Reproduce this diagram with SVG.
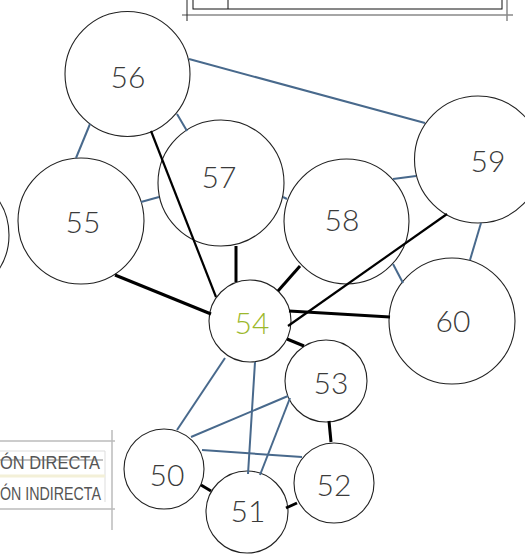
<svg xmlns="http://www.w3.org/2000/svg" width="525" height="556" viewBox="0 0 525 556">
<style>
.node{fill:#fff;stroke:#222;stroke-width:1.1}
.lbl{font-family:Lato,"Open Sans","Liberation Sans",sans-serif;font-weight:300;font-size:30px;fill:#3a3a3a;text-anchor:middle;dominant-baseline:central}
.d{stroke:#000;stroke-width:3;stroke-linecap:butt;fill:none}
.d2{stroke:#000;stroke-width:2.2;fill:none}
.i{stroke:#48698c;stroke-width:2;fill:none}
.frame{stroke:#888;stroke-width:1.5;fill:none}
.leg{font-family:"Liberation Sans","DejaVu Sans",sans-serif;font-size:18px;fill:#555}
</style>
<rect width="525" height="556" fill="#fff"/>
<g id="table">
<line class="frame" x1="182" y1="15" x2="513" y2="15"/>
<line x1="187" y1="0" x2="187" y2="21" stroke="#222" stroke-width="1"/>
<line x1="507" y1="0" x2="507" y2="21" stroke="#888" stroke-width="1.5"/>
<rect x="193" y="-2" width="309" height="11" fill="none" stroke="#111" stroke-width="1"/>
<line x1="228" y1="0" x2="228" y2="9" stroke="#111" stroke-width="1"/>
</g>
<g id="legend">
<line x1="0" y1="441" x2="115" y2="441" stroke="#bbb" stroke-width="1.5"/>
<line x1="0" y1="509" x2="115" y2="509" stroke="#bbb" stroke-width="1.5"/>
<line x1="112" y1="430" x2="112" y2="530" stroke="#bbb" stroke-width="1.5"/>
<line x1="0" y1="451" x2="105" y2="451" stroke="#ddd" stroke-width="1"/>
<line x1="105" y1="451" x2="105" y2="502" stroke="#ddd" stroke-width="1"/>
<line x1="0" y1="476" x2="105" y2="476" stroke="#f3f0d8" stroke-width="3"/>
<text class="leg" x="0" y="469" textLength="100" lengthAdjust="spacingAndGlyphs">ÓN DIRECTA</text>
<line x1="0" y1="460" x2="103" y2="460" stroke="#666" stroke-width="0.8"/>
<text class="leg" x="0" y="500" textLength="101" lengthAdjust="spacingAndGlyphs">ÓN INDIRECTA</text>
</g>
<g id="n-left"><circle class="node" cx="-54" cy="235" r="63"/></g>
<g id="n56"><circle class="node" cx="127.5" cy="74" r="62.5"/><text class="lbl" x="128" y="76">56</text></g>
<g id="n57"><circle class="node" cx="221" cy="183" r="63"/><text class="lbl" x="219" y="176">57</text></g>
<g id="n55"><circle class="node" cx="81" cy="221" r="63"/><text class="lbl" x="83" y="221">55</text></g>
<g id="n58"><circle class="node" cx="346.5" cy="221.5" r="62.5"/><text class="lbl" x="342" y="219">58</text></g>
<g id="n59"><circle class="node" cx="478" cy="159.5" r="63.5"/><text class="lbl" x="488" y="160">59</text></g>
<g id="n60"><circle class="node" cx="452" cy="321" r="63"/><text class="lbl" x="453" y="320">60</text></g>
<g id="n54"><circle class="node" cx="250" cy="321" r="41"/><text class="lbl" x="252" y="322" style="fill:#9cb82c">54</text></g>
<g id="n53"><circle class="node" cx="326" cy="381" r="41"/><text class="lbl" x="331" y="382">53</text></g>
<g id="n50"><circle class="node" cx="164" cy="469" r="40"/><text class="lbl" x="167" y="474">50</text></g>
<g id="n52"><circle class="node" cx="334" cy="483" r="40"/><text class="lbl" x="334" y="484">52</text></g>
<g id="n51"><circle class="node" cx="247" cy="512" r="41"/><text class="lbl" x="248" y="510">51</text></g>
<g id="connectors">
<line class="d" x1="115" y1="275" x2="211" y2="314"/>
<line class="d2" x1="151" y1="131" x2="216" y2="297"/>
<line class="d" x1="236" y1="246" x2="236" y2="282"/>
<line class="d" x1="300" y1="266" x2="278" y2="291"/>
<line class="d2" x1="447" y1="214" x2="288" y2="326"/>
<line class="d" x1="289" y1="311" x2="390" y2="317"/>
<line class="d" x1="287" y1="339" x2="304" y2="346"/>
<line class="d" x1="329" y1="421" x2="331" y2="442"/>
<line class="d" x1="201" y1="485" x2="211" y2="491"/>
<line class="d" x1="286" y1="508" x2="297" y2="503"/>
<line class="i" x1="189" y1="59" x2="425" y2="123"/>
<line class="i" x1="90" y1="124" x2="76" y2="158"/>
<line class="i" x1="177" y1="114" x2="187" y2="131"/>
<line class="i" x1="141" y1="202" x2="159" y2="197"/>
<line class="i" x1="283" y1="197" x2="287" y2="199"/>
<line class="i" x1="393" y1="179" x2="416" y2="176"/>
<line class="i" x1="481" y1="223" x2="470" y2="260"/>
<line class="i" x1="393" y1="264" x2="403" y2="283"/>
<line class="i" x1="225" y1="358" x2="177" y2="430"/>
<line class="i" x1="255" y1="362" x2="248" y2="474"/>
<line class="i" x1="288" y1="396" x2="191" y2="437"/>
<line class="i" x1="290" y1="398" x2="260" y2="475"/>
<line class="i" x1="202" y1="450" x2="302" y2="457"/>
</g>
</svg>
